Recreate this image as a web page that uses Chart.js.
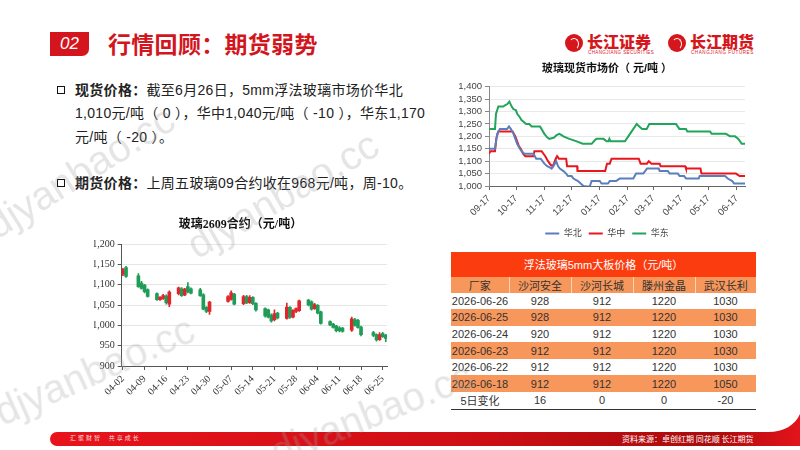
<!DOCTYPE html>
<html><head><meta charset="utf-8">
<script src="https://cdn.jsdelivr.net/npm/chart.js@4.4.1/dist/chart.umd.min.js"></script>
<style>
body{margin:0;width:800px;height:450px;overflow:hidden;background:#fff;position:relative;font-family:"Liberation Sans","Noto Sans CJK SC",sans-serif;}
.abs{position:absolute;}
.line{position:absolute;left:75px;font-size:14px;line-height:20px;color:#222;white-space:nowrap;letter-spacing:0.3px;}
.line b{font-weight:bold;}
.sq{position:absolute;left:57px;width:6px;height:6px;border:1.6px solid #111;}
#tbl{position:absolute;left:451px;top:252px;border-collapse:collapse;font-size:11px;color:#333;table-layout:fixed;}
#tbl td{padding:0;text-align:center;white-space:nowrap;}
#tbl tr.hd td{background:#fb3c0f;color:#fff;height:24.5px;}
#tbl tr.sub td{background:#f8975b;height:15.6px;border-left:1px solid #fbd2b8;}
#tbl tr.sub td:first-child{border-left:none;}
#tbl tr.r td{height:16.6px;}
#tbl tr.o td{background:#f8975b;}
#tbl tr.last td{border-bottom:1px solid #333;}
.wm{position:absolute;font-family:"Liberation Sans",sans-serif;font-size:40px;color:rgba(160,160,160,0.28);transform-origin:0 100%;white-space:nowrap;pointer-events:none;line-height:40px;}
</style></head><body>

<!-- header -->
<div class="abs" style="left:50px;top:32px;width:39px;height:24px;background:#d5151d;border-bottom-right-radius:7px;color:#fff;font-style:italic;font-size:17px;line-height:24px;text-align:center;font-family:'Liberation Sans',sans-serif;">02</div>
<div class="abs" style="left:108px;top:28px;font-size:23px;line-height:30px;font-weight:bold;color:#d3161e;font-family:'Noto Sans CJK SC',sans-serif;letter-spacing:0.3px;">行情回顾：期货弱势</div>

<div class="abs" style="left:565px;top:34px;width:18px;height:18px;border-radius:50%;background:#d6161d;"></div>
<div class="abs" style="left:569px;top:38px;width:8px;height:10px;border-radius:50%;border:1.5px solid #fff;border-left-color:transparent;border-bottom-color:transparent;"></div>
<div class="abs" style="left:587px;top:30px;font-size:16px;line-height:22px;font-weight:900;color:#d6161d;font-family:'Noto Sans CJK SC',sans-serif;">长江证券</div>
<div class="abs" style="left:588px;top:50px;font-size:4.5px;line-height:5px;color:#d6161d;letter-spacing:0.4px;">CHANGJIANG SECURITIES</div>
<div class="abs" style="left:668px;top:34px;width:18px;height:18px;border-radius:50%;background:#d6161d;"></div>
<div class="abs" style="left:672px;top:38px;width:8px;height:10px;border-radius:50%;border:1.5px solid #fff;border-left-color:transparent;border-bottom-color:transparent;"></div>
<div class="abs" style="left:690px;top:30px;font-size:16px;line-height:22px;font-weight:900;color:#d6161d;font-family:'Noto Sans CJK SC',sans-serif;">长江期货</div>
<div class="abs" style="left:691px;top:50px;font-size:4.5px;line-height:5px;color:#d6161d;letter-spacing:0.6px;">CHANGJIANG FUTURES</div>

<!-- bullets -->
<div class="sq" style="top:86px"></div>
<div class="line" style="top:80px"><b>现货价格：</b>截至6月26日，5mm浮法玻璃市场价华北</div>
<div class="line" style="top:103px">1,010元/吨（ 0 ），华中1,040元/吨（ -10 ），华东1,170</div>
<div class="line" style="top:127px">元/吨（ -20 ）。</div>
<div class="sq" style="top:179px"></div>
<div class="line" style="top:173px"><b>期货价格：</b>上周五玻璃09合约收在968元/吨，周-10。</div>

<!-- charts -->
<div class="abs" style="left:60px;top:212px;width:340px;height:196px;"><canvas id="c1" width="340" height="196"></canvas></div>
<div class="abs" style="left:420px;top:58px;width:380px;height:190px;"><canvas id="c2" width="380" height="190"></canvas></div>

<table id="tbl"><colgroup><col style="width:58px"><col style="width:62px"><col style="width:62px"><col style="width:62px"><col style="width:61px"></colgroup><tbody id="tb"></tbody></table>

<!-- footer -->
<svg class="abs" style="left:0;top:410px" width="800" height="40">
<defs><linearGradient id="fg" x1="0" x2="1" y1="0" y2="0"><stop offset="0" stop-color="#e8131b"/><stop offset="0.55" stop-color="#cf0f16"/><stop offset="0.88" stop-color="#a90b0c"/><stop offset="1" stop-color="#e3141b"/></linearGradient></defs>
<path d="M57,22 H768 C784,22 795,15 800,4 V36 H57 A7,7 0 0 1 57,22 Z" fill="url(#fg)"/>
</svg>
<div class="abs" style="left:70px;top:434px;font-size:6px;line-height:8px;color:rgba(255,255,255,0.85);letter-spacing:2px;font-family:'Noto Sans CJK SC',sans-serif;">汇聚财智 &nbsp;共享成长</div>
<div class="abs" style="left:622px;top:433px;font-size:8px;line-height:12px;color:#fff;font-family:'Noto Sans CJK SC',sans-serif;">资料来源：卓创红期 同花顺 长江期货</div>

<!-- watermarks -->
<div class="wm" style="left:0px;top:205px;transform:rotate(-32deg)">djyanbao.cc</div>
<div class="wm" style="left:200px;top:225px;transform:rotate(-30deg)">djyanbao.cc</div>
<div class="wm" style="left:5px;top:392px;transform:rotate(-24deg)">djyanbao.cc</div>
<div class="wm" style="left:280px;top:432px;transform:rotate(-22deg)">djyanbao.cc</div>

<script>
// ---------- futures candles: 玻璃2609合约 ----------
const futDates = ['04-02','04-03','04-07','04-08','04-09','04-10','04-13','04-14','04-15','04-16','04-17','04-20','04-21','04-22','04-23','04-24','04-27','04-28','04-29','04-30','05-06','05-07','05-08','05-11','05-12','05-13','05-14','05-15','05-18','05-19','05-20','05-21','05-22','05-25','05-26','05-27','05-28','05-29','06-01','06-02','06-03','06-04','06-05','06-08','06-09','06-10','06-11','06-12','06-15','06-16','06-17','06-18','06-22','06-23','06-24','06-25','06-26'];
const futOpen  = [1126,1142,1122,1104,1099,1088,1078,1063,1066,1072,1052,1078,1090,1075,1095,1090,1087,1075,1044,1034,1059,1064,1077,1053,1071,1056,1069,1054,1041,1038,1025,1014,1030,1017,1044,1020,1034,1036,1062,1058,1041,1049,1033,1009,1003,998,994,993,988,1014,1012,996,982,977,965,980,976];
const futClose = [1137,1120,1095,1091,1083,1071,1063,1069,1073,1056,1082,1092,1073,1089,1082,1079,1073,1040,1034,1057,1071,1080,1052,1071,1055,1069,1053,1038,1023,1020,1011,1029,1018,1045,1020,1037,1041,1060,1050,1040,1051,1030,1005,1001,995,987,987,985,1016,1000,995,977,975,964,977,972,968];
const futHigh  = [1140,1145,1127,1108,1101,1090,1080,1071,1076,1075,1085,1094,1093,1091,1105,1092,1091,1078,1046,1059,1073,1085,1079,1074,1074,1073,1071,1056,1043,1040,1028,1038,1032,1055,1046,1039,1043,1062,1064,1060,1054,1051,1035,1011,1005,1000,997,995,1020,1017,1015,998,985,979,982,983,978];
const futLow   = [1122,1118,1093,1089,1080,1069,1061,1061,1064,1052,1046,1075,1071,1073,1080,1077,1071,1038,1031,1027,1057,1062,1050,1051,1053,1054,1051,1035,1020,1018,1008,1011,1016,1015,1017,1018,1031,1034,1048,1037,1039,1028,1003,999,993,984,984,983,985,998,993,974,972,961,963,970,960];
const futTickLabels = ['04-02','04-09','04-16','04-23','04-30','05-07','05-14','05-21','05-28','06-04','06-11','06-18','06-25'];

// ---------- spot prices: 玻璃现货市场价 (days since 2025-09-17) ----------
const northDays   = [0,6.6,9,12,20,22,24,27,29,31,34,36,39,49,52,57,61,64,67,69,71,74,76,78,82,85,87,91,93,98,101,104,108,111,113,122,124,131,133,140,144,159,162,170,174,187,188,197,199,208,210,215,217,231,232,260,263,268,270,282];
const northPrices = [1150,1150,1210,1230,1230,1240,1230,1210,1190,1170,1150,1140,1130,1130,1110,1110,1090,1080,1075,1070,1080,1100,1080,1070,1060,1050,1040,1040,1030,1020,1010,1000,998,998,1020,1020,1010,1010,1020,1020,1030,1030,1050,1050,1070,1070,1060,1060,1050,1050,1040,1040,1030,1030,1040,1040,1030,1020,1010,1010];
const centralDays   = [0,1.5,6.6,8,10.3,26,29,31,33,35,37.5,40,49,50,58,60,62,65,68,70,71.5,73.5,75,77,85,86,97,97.5,128,130,133,135,165,167,174,176,179,188,189,216,217,233,234,272,276,282];
const centralPrices = [1130,1140,1140,1190,1220,1220,1200,1180,1160,1150,1130,1120,1120,1140,1140,1130,1120,1100,1085,1080,1090,1110,1120,1110,1110,1080,1080,1060,1060,1090,1090,1110,1110,1090,1090,1100,1090,1090,1080,1080,1070,1070,1050,1050,1040,1040];
const eastDays   = [0,6.6,7.7,10.3,15.8,17.6,20.2,22.4,25,26.8,29.7,31.2,33.4,36,37.8,40.8,44.4,47,56.2,61,64.3,66.5,71.6,74.5,77.5,80,81.9,88.5,96.6,103.2,113.1,116.8,118.6,126,129.6,131.5,132.6,133.7,149.8,155.3,162.7,165.6,168.6,173.7,176.6,206,209.7,217,218.5,243.5,245.3,261,265.5,271,274.7,278.4,282];
const eastPrices = [1230,1230,1290,1320,1320,1325,1330,1340,1320,1310,1305,1290,1280,1265,1260,1250,1250,1240,1240,1210,1195,1190,1195,1205,1210,1205,1200,1190,1180,1170,1170,1185,1190,1190,1180,1180,1190,1180,1180,1210,1250,1240,1230,1230,1250,1250,1230,1230,1220,1220,1210,1210,1200,1200,1190,1170,1170];
const spotTickLabels = ['09-17','10-17','11-17','12-17','01-17','02-17','03-17','04-17','05-17','06-17'];

// ---------- table: 浮法玻璃5mm大板价格 ----------
const tblDates  = ['2026-06-26','2026-06-25','2026-06-24','2026-06-23','2026-06-22','2026-06-18'];
const shaheAnquan = [928,928,920,912,912,912];
const shaheChangcheng = [912,912,912,912,912,912];
const tengzhouJinjing = [1220,1220,1220,1220,1220,1220];
const wuhanChangli = [1030,1030,1030,1030,1030,1050];
const fiveDayChange = ['16','0','0','-20'];

// build table
(function(){
  const tb = document.getElementById('tb');
  let h = '<tr class="hd"><td colspan="5">浮法玻璃5mm大板价格（元/吨）</td></tr>';
  h += '<tr class="sub"><td>厂家</td><td>沙河安全</td><td>沙河长城</td><td>滕州金晶</td><td>武汉长利</td></tr>';
  tblDates.forEach((d,i)=>{
    h += '<tr class="r'+(i%2===1?' o':'')+'"><td>'+d+'</td><td>'+shaheAnquan[i]+'</td><td>'+shaheChangcheng[i]+'</td><td>'+tengzhouJinjing[i]+'</td><td>'+wuhanChangli[i]+'</td></tr>';
  });
  h += '<tr class="r last"><td>5日变化</td>'+fiveDayChange.map(v=>'<td>'+v+'</td>').join('')+'</tr>';
  tb.innerHTML = h;
})();

// candle chart
const futBase = Date.UTC(2026,3,2);
const futDay = s => { const [m,d] = s.split('-').map(Number); return Math.round((Date.UTC(2026,m-1,d)-futBase)/864e5); };
const UP = '#e0262b', DOWN = '#1f9d58';
const candleColors = futOpen.map((o,i)=> futClose[i] >= o ? UP : DOWN);
const serif = "'Liberation Serif','Noto Sans CJK SC',serif";

new Chart(document.getElementById('c1'), {
  type: 'bar',
  data: { datasets: [
    { label: '影线', data: futDates.map((d,i)=>({x: futDay(d), y: [futLow[i], futHigh[i]]})), backgroundColor: candleColors, barThickness: 1, order: 2 },
    { label: '实体', data: futDates.map((d,i)=>({x: futDay(d), y: [futOpen[i], futClose[i]]})), backgroundColor: candleColors, barThickness: 3, minBarLength: 1, order: 1 }
  ]},
  options: {
    responsive: false, animation: false,
    datasets: { bar: { grouped: false } },
    layout: { padding: { left: 34, right: 13, top: 0, bottom: 0 } },
    plugins: {
      legend: { display: false }, tooltip: { enabled: false },
      title: { display: true, text: '玻璃2609合约（元/吨）', color: '#111', font: { family: serif, size: 12, weight: 'bold' }, padding: { top: 6, bottom: 11.6 } }
    },
    scales: {
      x: { type: 'linear', min: -0.4, max: 85.4, offset: false,
        afterBuildTicks: a => { a.ticks = futTickLabels.map(t => ({ value: futDay(t) })); },
        ticks: { autoSkip: false, minRotation: 45, maxRotation: 45, color: '#333', font: { family: serif, size: 10 },
          callback: v => futTickLabels.find(t => futDay(t) === v) || '' },
        grid: { drawOnChartArea: false, offset: false, tickLength: 4, tickColor: '#555' },
        border: { color: '#555' },
        afterFit: a => { a.height = 42; } },
      y: { min: 900, max: 1200,
        ticks: { stepSize: 50, autoSkip: false, color: '#333', font: { family: serif, size: 10 }, padding: 3, callback: v => v.toLocaleString('en-US') },
        grid: { color: '#e6e6e6', tickLength: 4, tickColor: '#555' },
        border: { color: '#555' },
        afterFit: a => { a.width = 27.7; } }
    }
  }
});

// spot line chart
const spotDay = s => { const [m,d] = s.split('-').map(Number); const y = m >= 9 ? 2025 : 2026; return Math.round((Date.UTC(y,m-1,d)-Date.UTC(2025,8,17))/864e5); };
const mk = (days, vals) => days.map((d,i)=>({x:d, y:vals[i]}));
const sans = "'Liberation Sans','Noto Sans CJK SC',sans-serif";
new Chart(document.getElementById('c2'), {
  type: 'line',
  data: { datasets: [
    { label: '华北', data: mk(northDays, northPrices), borderColor: '#5b7fbe', backgroundColor: '#5b7fbe', borderWidth: 2, pointRadius: 0 },
    { label: '华中', data: mk(centralDays, centralPrices), borderColor: '#e8171e', backgroundColor: '#e8171e', borderWidth: 2, pointRadius: 0 },
    { label: '华东', data: mk(eastDays, eastPrices), borderColor: '#20a55a', backgroundColor: '#20a55a', borderWidth: 2, pointRadius: 0 }
  ]},
  options: {
    responsive: false, animation: false,
    layout: { padding: { left: 0, right: 6, top: 0, bottom: 0 } },
    plugins: {
      tooltip: { enabled: false },
      title: { display: true, text: '玻璃现货市场价（ 元/吨 ）', color: '#111', font: { family: sans, size: 11, weight: 'bold' }, padding: { top: 4, bottom: 11.5 } },
      legend: { position: 'bottom', labels: { usePointStyle: true, pointStyle: 'line', pointStyleWidth: 14, color: '#444', font: { family: sans, size: 9 }, padding: 7 } }
    },
    scales: {
      x: { type: 'linear', min: 0, max: 282,
        afterBuildTicks: a => { a.ticks = spotTickLabels.map(t => ({ value: spotDay(t) })); },
        ticks: { autoSkip: false, minRotation: 45, maxRotation: 45, color: '#444', font: { family: sans, size: 9.5 },
          callback: v => spotTickLabels.find(t => spotDay(t) === v) || '' },
        grid: { drawOnChartArea: false, tickLength: 4, tickColor: '#666' },
        border: { color: '#666' },
        afterFit: a => { a.height = 36; } },
      y: { min: 1000, max: 1400,
        ticks: { stepSize: 50, autoSkip: false, color: '#444', font: { family: sans, size: 9.5 }, padding: 3, callback: v => v.toLocaleString('en-US') },
        grid: { color: '#e8e8e8', tickLength: 4, tickColor: '#888' },
        border: { color: '#888' },
        afterFit: a => { a.width = 69; } },
      yPad: { position: 'right', display: true, min: 0, max: 1,
        ticks: { display: false }, grid: { display: false, drawTicks: false }, border: { display: false },
        afterFit: a => { a.width = 49; } }
    }
  }
});
</script>
</body></html>
